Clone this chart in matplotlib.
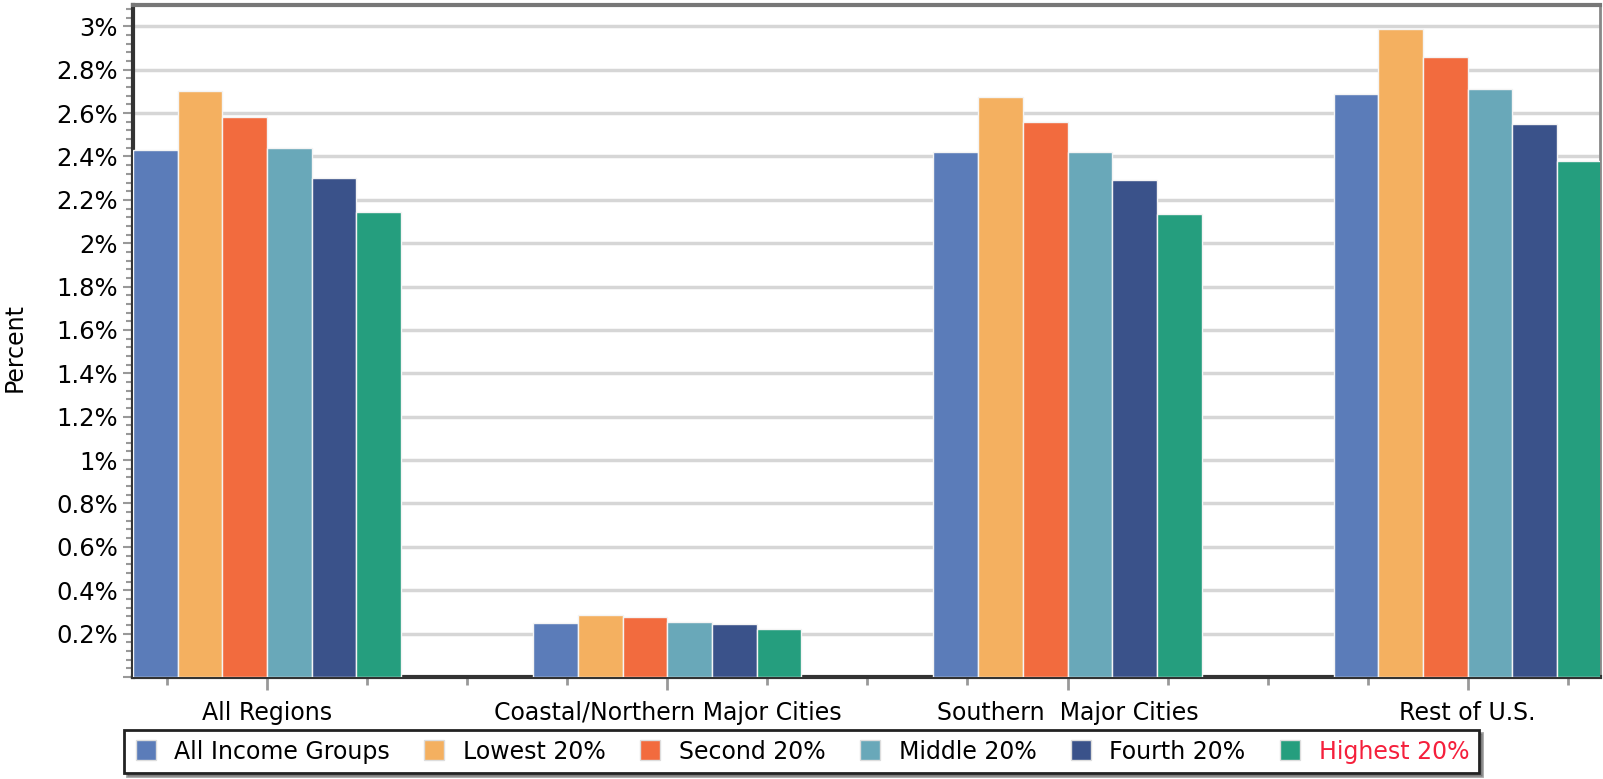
import numpy as np
import matplotlib.pyplot as plt
from matplotlib.lines import Line2D
from matplotlib.ticker import FuncFormatter, MultipleLocator

regions = ['All Regions', 'Coastal/Northern Major Cities', 'Southern  Major Cities', 'Rest of U.S.']
groups = ['All Income Groups', 'Lowest 20%', 'Second 20%', 'Middle 20%', 'Fourth 20%', 'Highest 20%']
colors = ['#5b7cb9', '#f4b060', '#f26b3e', '#69a8b9', '#3a528a', '#259e7e']

all_income = [2.43, 0.25, 2.42, 2.69]
lowest = [2.70, 0.285, 2.675, 2.99]
second = [2.58, 0.275, 2.56, 2.86]
middle = [2.44, 0.255, 2.42, 2.71]
fourth = [2.30, 0.245, 2.29, 2.55]
highest = [2.145, 0.22, 2.135, 2.38]
series = [all_income, lowest, second, middle, fourth, highest]

fig = plt.figure(figsize=(16.03, 7.79), dpi=100)
ax = fig.add_axes([0.083, 0.131, 0.915, 0.863])

x = np.arange(len(regions))
w = 0.67 / 6
for i, vals in enumerate(series):
    ax.bar(x - 0.335 + w * (i + 0.5), vals, width=w, color=colors[i],
           edgecolor='#f4f4f4', linewidth=1, zorder=3)

ax.set_xlim(-0.335, 3.33)
ax.set_ylim(0, 3.1)

# y axis
ax.yaxis.set_major_locator(MultipleLocator(0.2))
ax.yaxis.set_minor_locator(MultipleLocator(0.04))
ax.yaxis.set_major_formatter(FuncFormatter(lambda v, p: '' if v < 0.1 else '{:g}%'.format(round(v, 1))))
ax.grid(axis='y', color='#d6d6d6', linewidth=2.5, zorder=0)
ax.tick_params(axis='y', which='major', length=7, width=1.5, color='#999999', labelsize=17.5, pad=4)
ax.tick_params(axis='y', which='minor', length=5, width=1.5, color='#999999')
ax.set_ylabel('Percent', fontsize=17, va='center', ha='center')
ax.yaxis.set_label_coords(-0.081, 0.49)

# x axis
ax.set_xticks(x)
ax.set_xticklabels(regions, fontsize=17)
ax.xaxis.set_minor_locator(MultipleLocator(0.25))
ax.tick_params(axis='x', which='major', length=9, width=2, color='#999999', pad=8)
ax.tick_params(axis='x', which='minor', length=6, width=2, color='#999999')

for s in ['left', 'bottom']:
    ax.spines[s].set_color('#333333')
    ax.spines[s].set_linewidth(3)
ax.spines['top'].set_color('#777777')
ax.spines['top'].set_linewidth(3)
ax.spines['right'].set_color('#888888')
ax.spines['right'].set_linewidth(2)

handles = [Line2D([], [], marker='s', linestyle='', markersize=14, color=c,
                  markeredgecolor='#dddddd') for c in colors]
leg = fig.legend(handles, groups, ncol=6, loc='center', bbox_to_anchor=(0.5, 0.035),
                 fontsize=17, frameon=True, fancybox=False, shadow=True,
                 handlelength=1.0, handletextpad=0.7, columnspacing=1.4, borderpad=0.4)
leg.get_frame().set_edgecolor('#222222')
leg.get_frame().set_linewidth(2)
leg.get_texts()[5].set_color('#f5203c')

fig.savefig('out.png', dpi=100)
